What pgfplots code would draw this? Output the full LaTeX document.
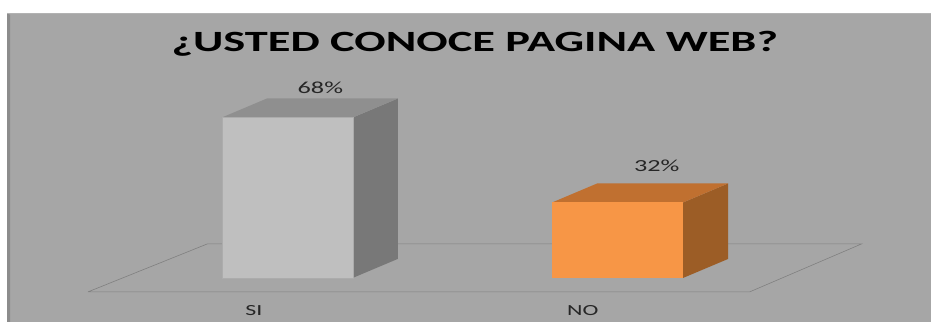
\documentclass[border=0pt]{standalone}
\usepackage{pgfplots}
\pgfplotsset{compat=1.18}
\usepackage{fontspec}
\setmainfont{Carlito}
\definecolor{bg}{RGB}{166,166,166}
\definecolor{bgedge}{RGB}{140,140,140}
\definecolor{floorline}{RGB}{128,128,128}
\definecolor{sifront}{RGB}{191,191,191}
\definecolor{sitop}{RGB}{143,143,143}
\definecolor{siside}{RGB}{120,120,120}
\definecolor{nofront}{RGB}{247,150,70}
\definecolor{notop}{RGB}{192,112,48}
\definecolor{noside}{RGB}{156,93,38}
\begin{document}
\begin{tikzpicture}
\begin{axis}[
  width=931bp, height=322bp, scale only axis,
  axis lines=none, clip=false,
  xmin=-0.8699, xmax=1.9470, ymin=-18.644, ymax=117.797,
]
% page
\addplot[fill=white, draw=none] coordinates {(-0.8699,-18.644) (-0.8699,117.797) (1.9470,117.797) (1.9470,-18.644)} -- cycle;
% panel
\addplot[fill=bg, draw=none] coordinates {(-0.8487,-18.644) (-0.8487,112.29) (1.9470,112.29) (1.9470,-18.644)} -- cycle;
\addplot[fill=bgedge, draw=none] coordinates {(-0.8487,-18.644) (-0.8487,112.29) (-0.8396,111.5) (-0.8396,-18.644)} -- cycle;
\addplot[draw=gray!60, line width=0.8bp] coordinates {(-0.8487,112.29) (1.9470,112.29)};
% floor
\addplot[draw=floorline, line width=0.6bp] coordinates {(-0.6036,-5.93) (-0.2421,14.41) (1.7383,14.41) (1.3994,-5.93) (-0.6036,-5.93)};
% SI bar (68)
\addplot[fill=siside, draw=none] coordinates {(0.1982,0) (0.1982,68) (0.3344,76.05) (0.3344,8.05)} -- cycle;
\addplot[fill=sitop, draw=none] coordinates {(-0.1982,68) (-0.0620,76.05) (0.3344,76.05) (0.1982,68)} -- cycle;
\addplot[ybar, bar width=0.3964, fill=sifront, draw=sifront!90!black, line width=0.3bp] coordinates {(0,68)};
% NO bar (32)
\addplot[fill=noside, draw=none] coordinates {(1.1982,0) (1.1982,32) (1.3344,40.05) (1.3344,8.05)} -- cycle;
\addplot[fill=notop, draw=none] coordinates {(0.8018,32) (0.9380,40.05) (1.3344,40.05) (1.1982,32)} -- cycle;
\addplot[ybar, bar width=0.3964, fill=nofront, draw=none] coordinates {(1,32)};
% labels
\node[anchor=base, font=\bfseries\fontsize{29.5}{30}\selectfont, xscale=1.58] at (axis cs:0.5673,95.76) {¿USTED CONOCE PAGINA WEB?};
\node[anchor=base, font=\fontsize{17}{18}\selectfont, text=black!85, xscale=1.55] at (axis cs:0.0998,77.97) {68\%};
\node[anchor=base, font=\fontsize{17}{18}\selectfont, text=black!85, xscale=1.55] at (axis cs:1.1180,45.04) {32\%};
\node[anchor=base, font=\fontsize{15.5}{16}\selectfont, text=black!85, xscale=1.55] at (axis cs:-0.1014,-15.8) {SI};
\node[anchor=base, font=\fontsize{15.5}{16}\selectfont, text=black!85, xscale=1.55] at (axis cs:0.8941,-15.97) {NO};
\end{axis}
\end{tikzpicture}
\end{document}
